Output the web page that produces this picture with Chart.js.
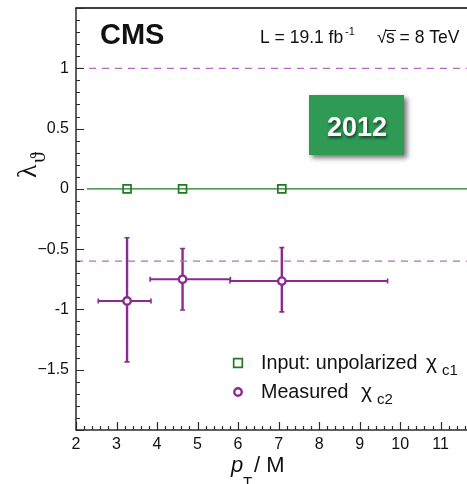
<!DOCTYPE html>
<html>
<head>
<meta charset="utf-8">
<script src="https://cdn.jsdelivr.net/npm/chart.js@4/dist/chart.umd.min.js"></script>
<style>
  html, body { margin: 0; padding: 0; background: #fff; overflow: hidden; }
  canvas { display: block; }
</style>
</head>
<body>
<canvas id="c" width="467" height="484"></canvas>
<script>
// Input (unpolarized chi_c1) points, in pT/M
const inputPt = [3.26, 4.63, 7.08];
const inputLambda = [0, 0, 0];

// Measured chi_c2 lambda_theta with bin widths and uncertainties
const measuredPt = [3.26, 4.63, 7.08];
const measuredLambda = [-0.93, -0.75, -0.765];
const measuredLambdaLow = [-1.435, -1.005, -1.02];
const measuredLambdaHigh = [-0.405, -0.495, -0.487];
const measuredPtLow = [2.55, 3.83, 5.8];
const measuredPtHigh = [3.85, 5.81, 9.69];

// Horizontal reference lines
const unpolarizedLevel = 0;
const unpolarizedStart = 2.27;
const boundLevels = [1, -0.6];

// Axis ranges and labelled ticks
const xRange = [2, 11.65];
const yRange = [-2, 1.5];
const xTickValues = [2, 3, 4, 5, 6, 7, 8, 9, 10, 11];
const xTickLabels = ['2', '3', '4', '5', '6', '7', '8', '9', '10', '11'];
const yTickValues = [1, 0.5, 0, -0.5, -1, -1.5];
const yTickLabels = ['1', '0.5', '0', '\u22120.5', '-1', '\u22121.5'];

const GREEN = '#1f7a22';
const PURPLE = '#8c2a8f';
const PURPLE_LIGHT = '#b66bc0';
const AXIS = '#2b2b2b';
const SANS = '"Liberation Sans", Arial, Helvetica, sans-serif';
const SERIF = '"Liberation Serif", "Times New Roman", serif';

const pts = (xs, ys) => xs.map((x, i) => ({ x: x, y: ys[i] }));

// Error bars of the measured series, drawn beneath its markers
const errorBars = {
  id: 'errorBars',
  beforeDatasetDraw(chart, args) {
    if (chart.data.datasets[args.index].label !== 'measured') return;
    const { ctx, scales: { x, y } } = chart;
    ctx.save();
    ctx.strokeStyle = PURPLE;
    ctx.lineCap = 'butt';
    const cap = 2.5;
    measuredPt.forEach((p, i) => {
      const px = x.getPixelForValue(p);
      const py = y.getPixelForValue(measuredLambda[i]);
      const yTop = y.getPixelForValue(measuredLambdaHigh[i]);
      const yBot = y.getPixelForValue(measuredLambdaLow[i]);
      const xL = x.getPixelForValue(measuredPtLow[i]);
      const xR = x.getPixelForValue(measuredPtHigh[i]);
      ctx.lineWidth = 2.4;
      ctx.beginPath();
      ctx.moveTo(px, yTop); ctx.lineTo(px, yBot);
      ctx.stroke();
      ctx.lineWidth = 2;
      ctx.beginPath();
      ctx.moveTo(xL, py); ctx.lineTo(xR, py);
      ctx.stroke();
      ctx.lineWidth = 1.6;
      ctx.beginPath();
      ctx.moveTo(px - cap, yTop); ctx.lineTo(px + cap, yTop);
      ctx.moveTo(px - cap, yBot); ctx.lineTo(px + cap, yBot);
      ctx.moveTo(xL, py - cap); ctx.lineTo(xL, py + cap);
      ctx.moveTo(xR, py - cap); ctx.lineTo(xR, py + cap);
      ctx.stroke();
    });
    ctx.restore();
  }
};

// Frame, inward ticks, labels, titles, legend and annotations
const frame = {
  id: 'frame',
  afterDraw(chart) {
    const { ctx, chartArea: a, scales: { x, y } } = chart;
    ctx.save();
    // axes and top border
    ctx.strokeStyle = AXIS;
    ctx.lineWidth = 1.5;
    ctx.beginPath();
    ctx.moveTo(a.left, a.top); ctx.lineTo(a.left, a.bottom);
    ctx.moveTo(a.left - 0.75, a.bottom); ctx.lineTo(a.right, a.bottom);
    ctx.stroke();
    ctx.strokeStyle = '#000';
    ctx.beginPath();
    ctx.moveTo(a.left - 0.75, a.top); ctx.lineTo(a.right, a.top);
    ctx.stroke();

    // y ticks every 0.1, major every 0.5
    ctx.strokeStyle = AXIS;
    ctx.lineWidth = 1.2;
    ctx.beginPath();
    for (let i = Math.round(yRange[0] * 10); i <= Math.round(yRange[1] * 10); i++) {
      const py = Math.round(y.getPixelForValue(i / 10)) + 0.5;
      const len = (i % 5 === 0) ? 8 : 4;
      ctx.moveTo(a.left, py); ctx.lineTo(a.left + len, py);
    }
    // x ticks every 0.2, major every 1
    for (let i = Math.round(xRange[0] * 5); i <= Math.floor(xRange[1] * 5); i++) {
      const px = Math.round(x.getPixelForValue(i / 5)) + 0.5;
      const len = (i % 5 === 0) ? 8 : 4;
      ctx.moveTo(px, a.bottom); ctx.lineTo(px, a.bottom - len);
    }
    ctx.stroke();

    // tick labels
    ctx.fillStyle = '#111';
    ctx.font = '16px ' + SANS;
    ctx.textAlign = 'right';
    ctx.textBaseline = 'middle';
    yTickValues.forEach((v, i) => {
      ctx.fillText(yTickLabels[i], 69, y.getPixelForValue(v));
    });
    ctx.textAlign = 'center';
    ctx.textBaseline = 'alphabetic';
    xTickValues.forEach((v, i) => {
      ctx.fillText(xTickLabels[i], x.getPixelForValue(v), 449);
    });

    // y title: lambda_theta
    ctx.save();
    ctx.translate(36, 178);
    ctx.rotate(-Math.PI / 2);
    ctx.textAlign = 'left';
    ctx.font = '28px ' + SERIF;
    ctx.fillText('\u03bb', 0, 0);
    ctx.font = '22px ' + SERIF;
    ctx.fillText('\u03d1', 15, 9);
    ctx.restore();

    // x title: pT / M
    ctx.textAlign = 'left';
    ctx.font = 'italic 22px ' + SANS;
    ctx.fillText('p', 231, 472);
    ctx.font = '15px ' + SANS;
    ctx.fillText('T', 243, 487);
    ctx.font = '22px ' + SANS;
    ctx.fillText('/ M', 254, 472);

    // experiment label and run conditions
    ctx.font = 'bold 29px ' + SANS;
    ctx.fillText('CMS', 100, 44);
    ctx.font = '17.5px ' + SANS;
    ctx.fillText('L = 19.1 fb', 260, 43);
    ctx.font = '11px ' + SANS;
    ctx.fillText('-1', 345, 35);
    ctx.font = '17.5px ' + SANS;
    ctx.fillText('\u221a', 377, 43);
    ctx.fillText('s = 8 TeV', 386, 43);
    ctx.lineWidth = 1;
    ctx.strokeStyle = '#111';
    ctx.beginPath();
    ctx.moveTo(385, 30.5); ctx.lineTo(396, 30.5);
    ctx.stroke();

    // year badge
    ctx.save();
    ctx.shadowColor = 'rgba(0,0,0,0.55)';
    ctx.shadowBlur = 5;
    ctx.shadowOffsetX = 3;
    ctx.shadowOffsetY = 3;
    ctx.fillStyle = '#2e9a54';
    ctx.fillRect(309, 95, 95, 60);
    ctx.restore();
    ctx.save();
    ctx.shadowColor = 'rgba(0,0,0,0.6)';
    ctx.shadowBlur = 3;
    ctx.shadowOffsetX = 1;
    ctx.shadowOffsetY = 2;
    ctx.fillStyle = '#fff';
    ctx.font = 'bold 27px ' + SANS;
    ctx.textAlign = 'center';
    ctx.fillText('2012', 357, 136);
    ctx.restore();

    // legend
    const ds = chart.data.datasets;
    const inDs = ds.find(d => d.label === 'input');
    const meDs = ds.find(d => d.label === 'measured');
    ctx.lineWidth = inDs.borderWidth;
    ctx.strokeStyle = inDs.borderColor;
    ctx.fillStyle = '#fff';
    Chart.helpers.drawPoint(ctx, { pointStyle: 'rect', radius: inDs.pointRadius + 0.5, borderWidth: inDs.borderWidth, rotation: 0 }, 238, 363);
    ctx.lineWidth = meDs.borderWidth;
    ctx.strokeStyle = meDs.borderColor;
    ctx.fillStyle = '#fff';
    Chart.helpers.drawPoint(ctx, { pointStyle: 'circle', radius: meDs.pointRadius, borderWidth: meDs.borderWidth, rotation: 0 }, 238, 392);

    ctx.fillStyle = '#111';
    ctx.textAlign = 'left';
    ctx.font = '19.7px ' + SANS;
    ctx.fillText('Input: unpolarized', 261, 369);
    ctx.fillText('Measured', 261, 398);
    ctx.font = '21px ' + SANS;
    ctx.fillText('\u03c7', 426, 369);
    ctx.fillText('\u03c7', 361, 398);
    ctx.font = '15px ' + SANS;
    ctx.fillText('c1', 442, 375);
    ctx.fillText('c2', 377, 404);

    ctx.restore();
  }
};

new Chart(document.getElementById('c'), {
  type: 'scatter',
  data: {
    datasets: [
      {
        label: 'unpolarized',
        data: [{ x: unpolarizedStart, y: unpolarizedLevel }, { x: xRange[1], y: unpolarizedLevel }],
        showLine: true, borderColor: GREEN, borderWidth: 1.3, pointRadius: 0
      },
      ...boundLevels.map(v => ({
        label: 'bound',
        data: [{ x: xRange[0], y: v }, { x: xRange[1], y: v }],
        showLine: true, borderColor: PURPLE_LIGHT, borderWidth: 1.3,
        borderDash: [7, 6], pointRadius: 0
      })),
      {
        label: 'input',
        data: pts(inputPt, inputLambda),
        pointStyle: 'rect', pointRadius: 5.6, borderWidth: 1.7,
        borderColor: GREEN, backgroundColor: '#fff'
      },
      {
        label: 'measured',
        data: pts(measuredPt, measuredLambda),
        pointStyle: 'circle', pointRadius: 3.7, borderWidth: 2.4,
        borderColor: PURPLE, backgroundColor: '#fff'
      }
    ]
  },
  options: {
    responsive: false,
    animation: false,
    devicePixelRatio: 1,
    layout: { autoPadding: false, padding: { left: 76, right: 0, top: 8, bottom: 54 } },
    plugins: { legend: { display: false }, tooltip: { enabled: false } },
    scales: {
      x: { type: 'linear', min: xRange[0], max: xRange[1], display: false },
      y: { type: 'linear', min: yRange[0], max: yRange[1], display: false }
    }
  },
  plugins: [errorBars, frame]
});
</script>
</body>
</html>
